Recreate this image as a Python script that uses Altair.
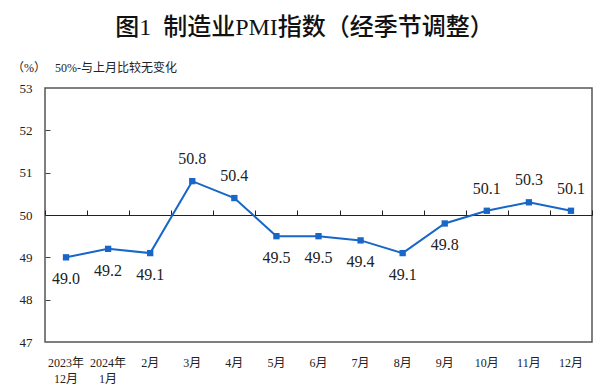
import altair as alt
import pandas as pd

months = ["2023年|12月", "2024年|1月", "2月", "3月", "4月", "5月", "6月",
          "7月", "8月", "9月", "10月", "11月", "12月"]
pmi = [49.0, 49.2, 49.1, 50.8, 50.4, 49.5, 49.5, 49.4, 49.1, 49.8, 50.1, 50.3, 50.1]
y_ticks = [47, 48, 49, 50, 51, 52, 53]
inner_ticks = [48, 49, 51, 52]
title_text = "图1\u00a0\u00a0制造业PMI指数（经季节调整）"
note_text = "（%）\u00a0\u00a0\u00a050%-与上月比较无变化"

df = pd.DataFrame({"month": months, "pmi": pmi,
                   "label": [f"{v:.1f}" for v in pmi]})

W, H = 547, 254
BLUE = "#1766c8"
SERIF = "Liberation Serif, Noto Sans CJK SC"

xscale = alt.Scale(type="band", domain=months, paddingInner=0, paddingOuter=0)
yscale = alt.Scale(domain=[47, 53], nice=False, zero=False)

base = alt.Chart(df)

line = base.mark_line(color=BLUE, strokeWidth=2).encode(
    x=alt.X("month:N", scale=xscale, sort=months,
            axis=alt.Axis(orient="bottom", title=None, domain=False, ticks=False,
                          labelAngle=0, labelFont=SERIF, labelFontSize=12,
                          labelColor="#222", labelPadding=15, labelBaseline="top",
                          labelLineHeight=16,
                          labelExpr="split(datum.value, '|')")),
    y=alt.Y("pmi:Q", scale=yscale,
            axis=alt.Axis(orient="left", title=None, values=y_ticks, domain=False,
                          ticks=False, grid=False, labelFont=SERIF, labelFontSize=13,
                          labelColor="#222", labelPadding=13)),
)

points = base.mark_point(shape="square", filled=True, size=40, color=BLUE,
                         opacity=1).encode(
    x=alt.X("month:N", scale=xscale, sort=months,
            axis=alt.Axis(orient="top", offset=-H / 2, title=None, labels=False,
                          domain=True, domainColor="#222", domainWidth=1,
                          ticks=True, tickBand="extent", tickSize=5,
                          tickColor="#222", tickWidth=1, grid=False)),
    y=alt.Y("pmi:Q", scale=yscale,
            axis=alt.Axis(orient="right", offset=-W, title=None, labels=False,
                          domain=False, ticks=True, values=inner_ticks, tickSize=5,
                          tickColor="#444", tickWidth=1, grid=False)),
)

above = base.transform_filter("datum.pmi > 50").mark_text(
    font="Liberation Serif", fontSize=16, color="#222", baseline="middle", dy=-22
).encode(
    x=alt.X("month:N", scale=xscale, sort=months, axis=None),
    y=alt.Y("pmi:Q", scale=yscale, axis=None),
    text="label:N",
)

below = base.transform_filter("datum.pmi < 50").mark_text(
    font="Liberation Serif", fontSize=16, color="#222", baseline="middle", dy=22
).encode(
    x=alt.X("month:N", scale=xscale, sort=months, axis=None),
    y=alt.Y("pmi:Q", scale=yscale, axis=None),
    text="label:N",
)

note = alt.Chart(pd.DataFrame({"t": [note_text]})).mark_text(
    align="left", baseline="middle", font=SERIF, fontSize=12, color="#222"
).encode(x=alt.value(-33), y=alt.value(-20), text="t:N")

chart = alt.layer(line, points, above, below, note).resolve_axis(
    x="independent", y="independent"
).properties(
    width=W, height=H,
    autosize=alt.AutoSizeParams(type="none"),
    padding={"left": 37, "top": 80, "right": 8, "bottom": 46},
    title=alt.TitleParams(title_text, fontSize=24, font=SERIF, fontWeight=500,
                          color="#111", anchor="middle", dx=-14, offset=3,
                          baseline="alphabetic"),
).configure_view(stroke="#555", strokeWidth=1.5)

chart.save("out.html", embed_options={"renderer": "svg", "actions": False})
